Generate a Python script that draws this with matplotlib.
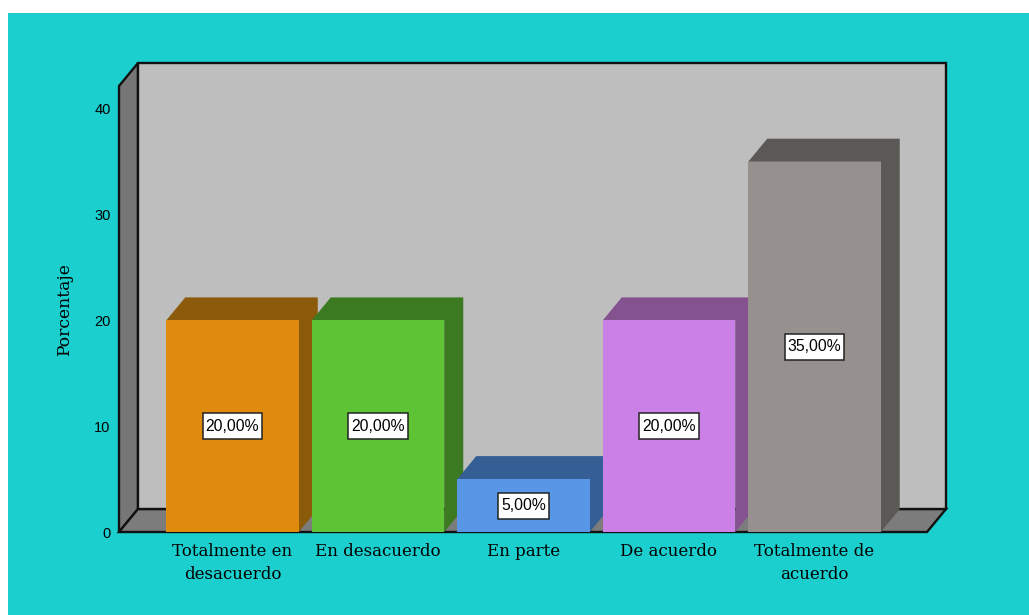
"""3D-style bar chart of survey percentages."""

import matplotlib
matplotlib.use("Agg")
import matplotlib.pyplot as plt  # noqa: E402
from matplotlib.patches import Polygon, Rectangle  # noqa: E402

W, H = 1029, 615

categories = ["Totalmente en\ndesacuerdo", "En desacuerdo", "En parte",
              "De acuerdo", "Totalmente de\nacuerdo"]
values = [20, 20, 5, 20, 35]
labels = ["20,00%", "20,00%", "5,00%", "20,00%", "35,00%"]
y_ticks = [0, 10, 20, 30, 40]

_TEAL = "#1BCFCF"
_WALL = "#BEBEBE"
_SIDE = "#767676"
_FLOOR = "#7C7C7C"
_EDGE = "#111111"
front_colors = ["#E08A0E", "#5EC435", "#5797E6", "#CA80E6", "#96918E"]
dark_colors = ["#8B5A0A", "#3C7A22", "#355E94", "#83528F", "#5B5956"]
SERIF = "DejaVu Serif"

fig = plt.figure(figsize=(W / 100, H / 100), dpi=100, facecolor="white")
fig.add_artist(Rectangle((8 / W, 0), 1 - 8 / W, 1 - 13 / H,
                         transform=fig.transFigure, facecolor=_TEAL,
                         edgecolor="none", zorder=-1))

# axes box is the front face of the 3D frame
left, right, top, bottom = 119, 927, 86, 532
ax = fig.add_axes([left / W, 1 - bottom / H, (right - left) / W, (bottom - top) / H])
ax.patch.set_visible(False)
for s in ax.spines.values():
    s.set_visible(False)

x_unit = 145.5
y_unit = 10.58
ax.set_xlim((left - 232.5) / x_unit, (right - 232.5) / x_unit)
ax.set_ylim(0, (bottom - top) / y_unit)
dx = 19 / x_unit
dy = 23 / y_unit
x0, x1 = ax.get_xlim()
y1 = ax.get_ylim()[1]


def _poly(points, face, edge="none", lw=0, z=1):
    ax.add_patch(Polygon(points, closed=True, facecolor=face, edgecolor=edge,
                         linewidth=lw, zorder=z, clip_on=False, joinstyle="miter"))


# frame: back wall, left wall, floor
_poly([(x0, 0), (x0 + dx, dy), (x0 + dx, y1 + dy), (x0, y1)], _SIDE, _EDGE, 1.7, 1)
_poly([(x0, 0), (x1, 0), (x1 + dx, dy), (x0 + dx, dy)], _FLOOR, _EDGE, 1.7, 1)
_poly([(x0 + dx, dy), (x1 + dx, dy), (x1 + dx, y1 + dy), (x0 + dx, y1 + dy)],
      _WALL, _EDGE, 1.7, 2)

bar_w = 132.5 / x_unit
box_h = 26 / y_unit
renderer = fig.canvas.get_renderer()
for i, val in enumerate(values):
    z = 3 + i
    xa, xb = i - bar_w / 2, i + bar_w / 2
    # top and right side of the bar share one shade
    _poly([(xa, val), (xa + dx, val + dy), (xb + dx, val + dy),
           (xb + dx, dy), (xb, 0), (xb, val)], dark_colors[i], z=z)
    ax.bar(i, val, width=bar_w, color=front_colors[i], zorder=z + 0.1, clip_on=False,
           linewidth=0)
    txt = ax.text(i, val / 2, labels[i], ha="center", va="center", fontsize=11.3,
                  family="Liberation Sans", color="black", zorder=20)
    # white box fits the label text
    box_w = (txt.get_window_extent(renderer).width + 6) / x_unit
    ax.add_patch(Rectangle((i - box_w / 2, val / 2 - box_h / 2), box_w, box_h,
                           facecolor="white", edgecolor="#222222", linewidth=1.1,
                           zorder=19))

ax.set_xticks(range(len(categories)))
ax.set_xticklabels(categories, family=SERIF, fontsize=12, linespacing=1.42)
ax.set_yticks(y_ticks)
ax.set_yticklabels([str(t) for t in y_ticks], family="Liberation Sans", fontsize=10.5)
ax.tick_params(axis="both", length=0, colors="black")
ax.tick_params(axis="x", pad=8)
ax.tick_params(axis="y", pad=6)

fig.text(65 / W, 1 - 310 / H, "Porcentaje", rotation=90, ha="center", va="center",
         family=SERIF, fontsize=12.3, color="black")

fig.savefig("out.png", dpi=100)
